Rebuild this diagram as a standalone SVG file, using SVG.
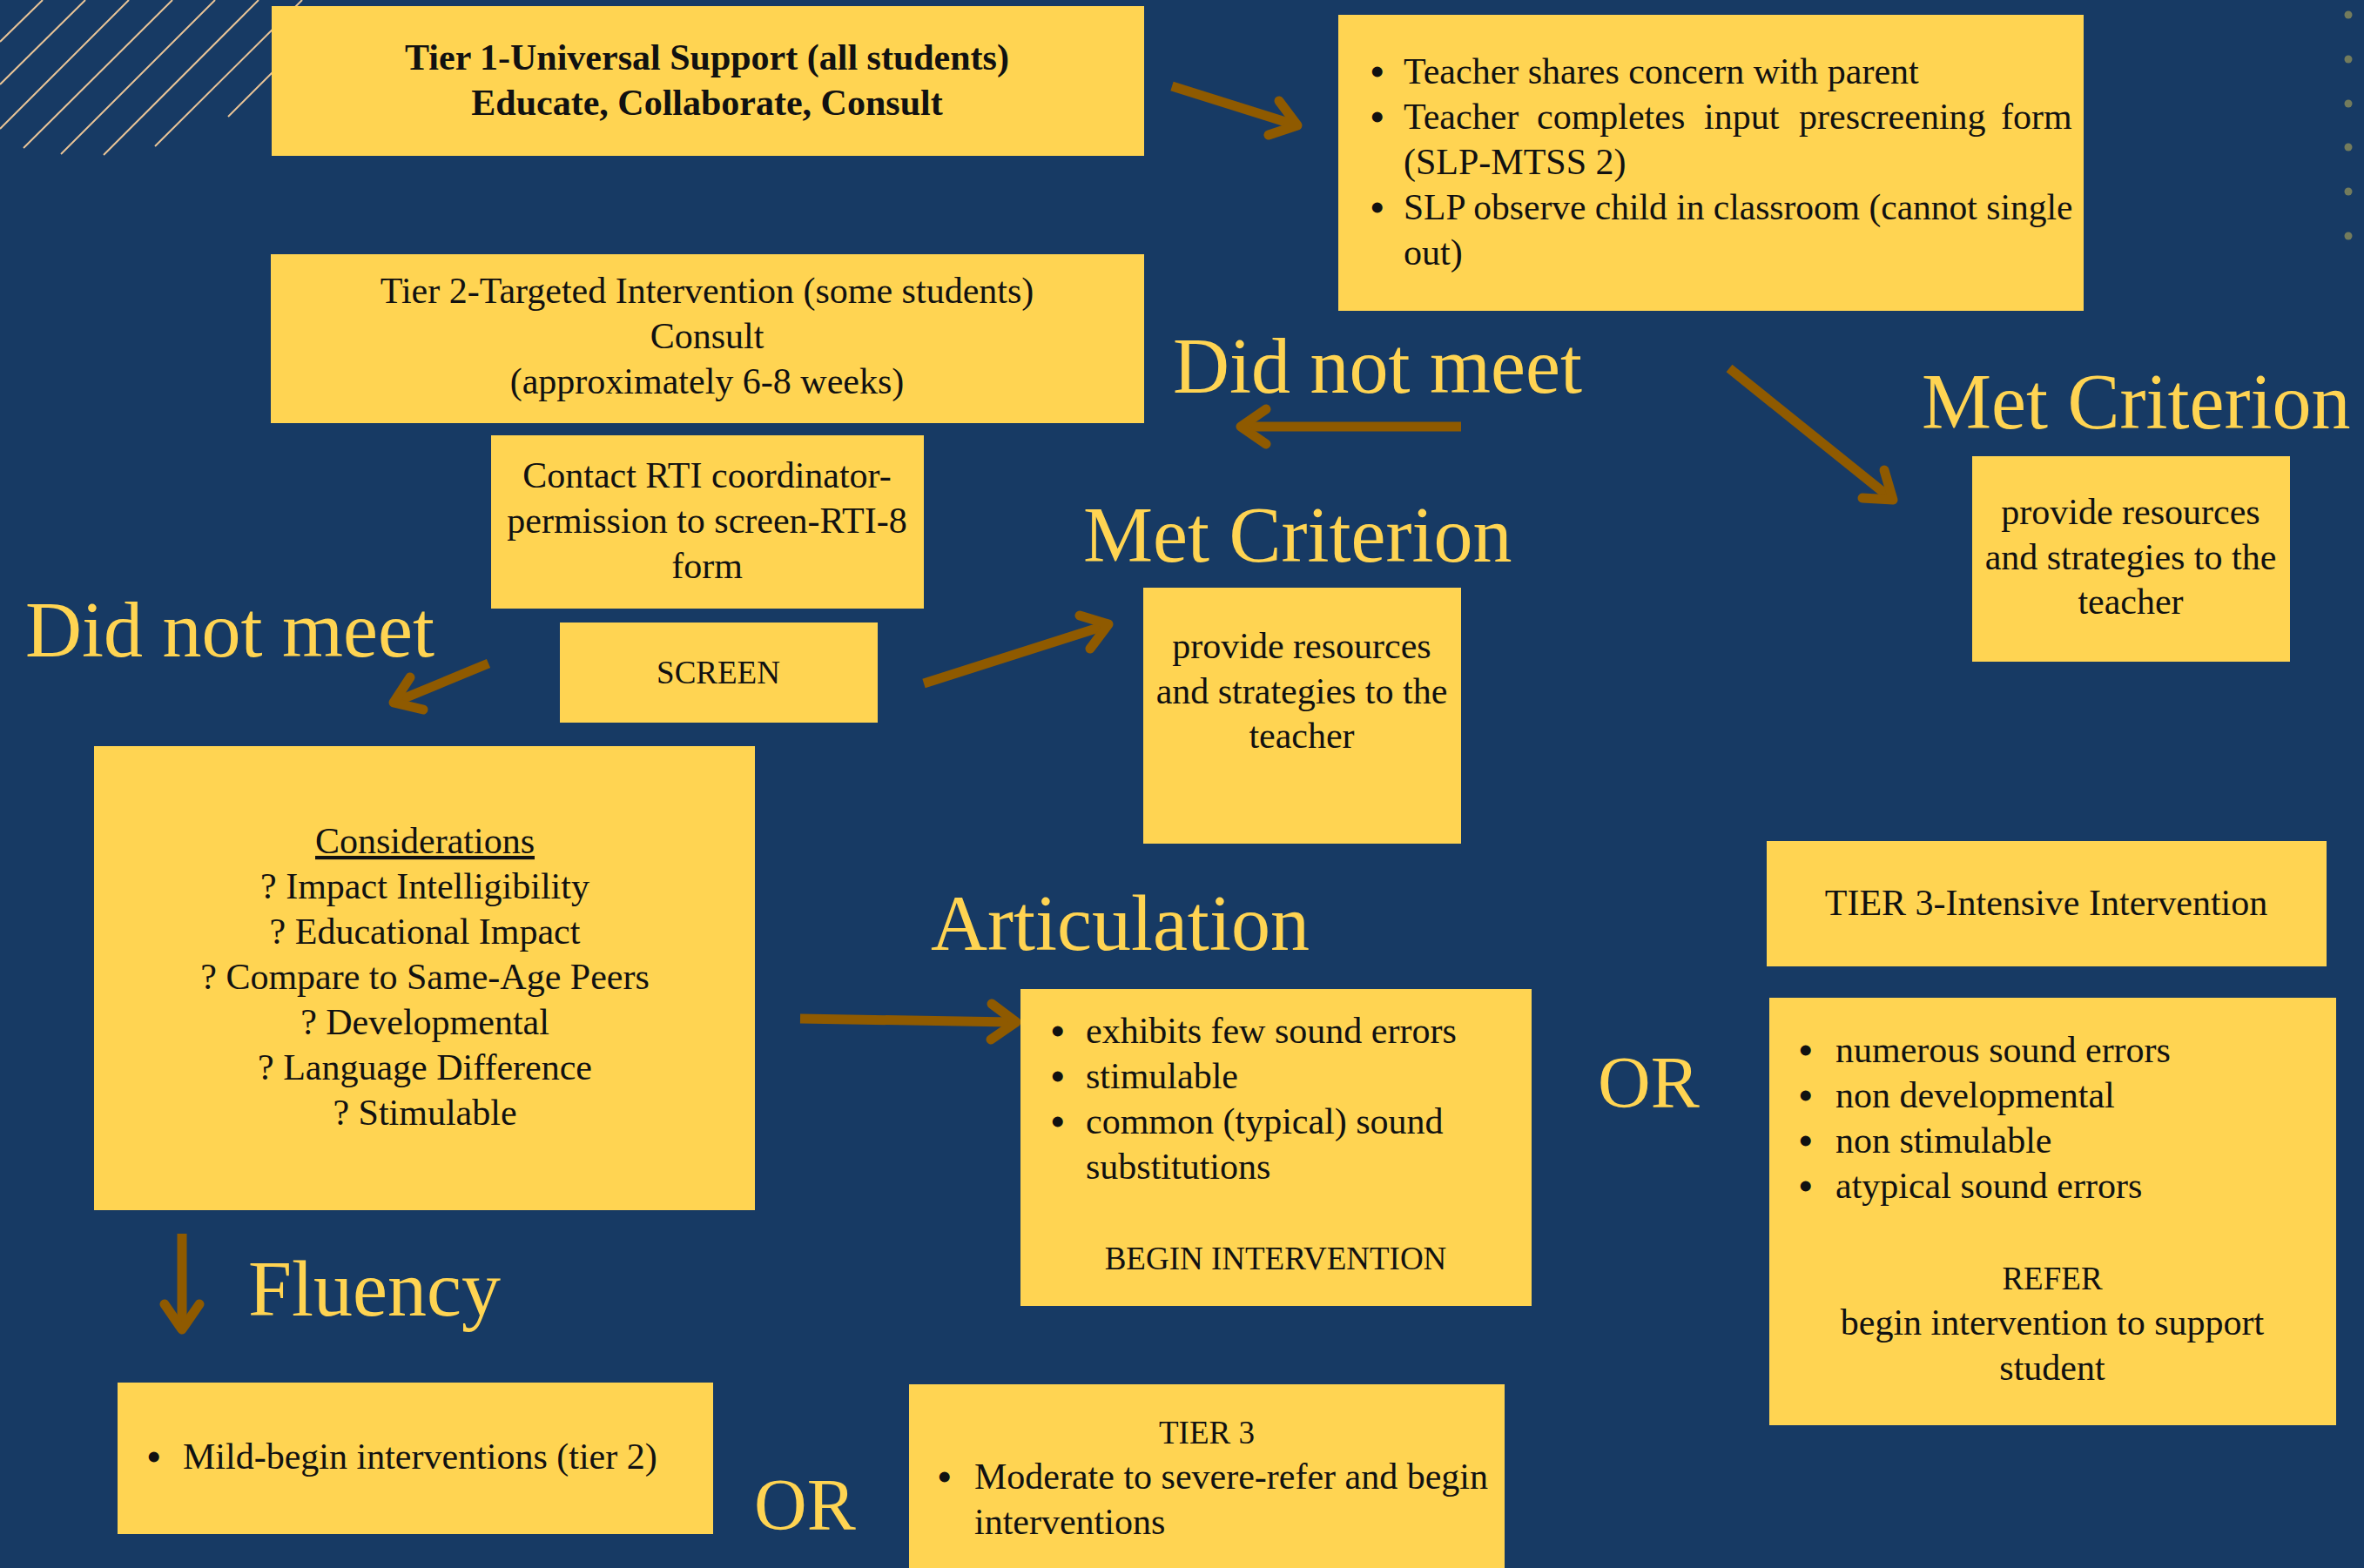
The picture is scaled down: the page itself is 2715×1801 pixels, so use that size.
<svg xmlns="http://www.w3.org/2000/svg" width="2715" height="1801" viewBox="0 0 2715 1801">
<style>
.bg{fill:#173A64}
.box{fill:#FFD452}
.t{font-family:"Liberation Serif",serif;font-size:42px;fill:#111111}
.caps{font-size:37px}
.bul{font-size:44px;font-weight:bold}
.c{text-anchor:middle}
.b{font-weight:bold}
.big{font-family:"Liberation Serif",serif;font-size:90px;fill:#FFD452}
.or{font-size:84px}
.stripe{stroke:#E9C497;stroke-width:2;fill:none}
.dot{fill:#737B5C}
.shaft{stroke:#8F5A00;stroke-width:11;fill:none;stroke-linecap:butt}
.head{stroke:#8F5A00;stroke-width:11;fill:none;stroke-linecap:round;stroke-linejoin:round}
</style>
<rect class="bg" x="0" y="0" width="2715" height="1801"/>
<g id="decor">
<line class="stripe" x1="0" y1="48" x2="49" y2="0"/>
<line class="stripe" x1="0" y1="97" x2="98" y2="0"/>
<line class="stripe" x1="0" y1="148" x2="148" y2="0"/>
<line class="stripe" x1="27" y1="170" x2="198" y2="0"/>
<line class="stripe" x1="70" y1="177" x2="247" y2="0"/>
<line class="stripe" x1="119" y1="178" x2="297" y2="0"/>
<line class="stripe" x1="178" y1="168" x2="347" y2="0"/>
<line class="stripe" x1="262" y1="134" x2="345" y2="51"/>
<circle class="dot" cx="2697" cy="17" r="4.5"/>
<circle class="dot" cx="2697" cy="68" r="4.5"/>
<circle class="dot" cx="2697" cy="119" r="4.5"/>
<circle class="dot" cx="2697" cy="169" r="4.5"/>
<circle class="dot" cx="2697" cy="220" r="4.5"/>
<circle class="dot" cx="2697" cy="271" r="4.5"/>
</g>
<g id="connectors">
<line class="shaft" x1="1346" y1="99" x2="1486" y2="143"/>
<path class="head" d="M1469,116 L1490,144 L1457,155"/>
<line class="shaft" x1="1678" y1="490" x2="1430" y2="490"/>
<path class="head" d="M1454,470 L1425,490 L1454,510"/>
<line class="shaft" x1="1986" y1="423" x2="2170" y2="571"/>
<path class="head" d="M2164,540 L2174,574 L2139,572"/>
<line class="shaft" x1="561" y1="762" x2="457" y2="805"/>
<path class="head" d="M471,778 L452,807 L486,815"/>
<line class="shaft" x1="1061" y1="785" x2="1268" y2="719"/>
<path class="head" d="M1252,745 L1273,717 L1240,707"/>
<line class="shaft" x1="919" y1="1170" x2="1162" y2="1174"/>
<path class="head" d="M1139,1153 L1167,1174 L1138,1194"/>
<line class="shaft" x1="209" y1="1417" x2="209" y2="1522"/>
<path class="head" d="M189,1498 L209,1527 L229,1498"/>
</g>
<g id="labels">
<text class="big" x="1347" y="451">Did not meet</text>
<text class="big" x="2207" y="492">Met Criterion</text>
<text class="big" x="29" y="754">Did not meet</text>
<text class="big" x="1244" y="645">Met Criterion</text>
<text class="big" x="1069" y="1091">Articulation</text>
<text class="big or" x="1835" y="1272">OR</text>
<text class="big" x="285" y="1511">Fluency</text>
<text class="big or" x="866" y="1757">OR</text>
</g>
<g id="tier1">
<rect class="box" x="312" y="7" width="1002" height="172"/>
<text class="t c b" x="812" y="80">Tier 1-Universal Support (all students)</text>
<text class="t c b" x="812" y="132">Educate, Collaborate, Consult</text>
</g>
<g id="prescreen">
<rect class="box" x="1537" y="17" width="856" height="340"/>
<text class="t bul" x="1574" y="97">•</text>
<text class="t" x="1612" y="96">Teacher shares concern with parent</text>
<text class="t bul" x="1574" y="149">•</text>
<text class="t" y="148"><tspan x="1612">Teacher</tspan><tspan x="1765">completes</tspan><tspan x="1957">input</tspan><tspan x="2066">prescreening</tspan><tspan x="2298">form</tspan></text>
<text class="t" x="1612" y="200">(SLP-MTSS 2)</text>
<text class="t bul" x="1574" y="253">•</text>
<text class="t" x="1612" y="252" style="font-size:41.5px">SLP observe child in classroom (cannot single</text>
<text class="t" x="1612" y="304">out)</text>
</g>
<g id="tier2">
<rect class="box" x="311" y="292" width="1003" height="194"/>
<text class="t c" x="812" y="348">Tier 2-Targeted Intervention (some students)</text>
<text class="t c" x="812" y="400">Consult</text>
<text class="t c" x="812" y="452">(approximately 6-8 weeks)</text>
</g>
<g id="met-right">
<rect class="box" x="2265" y="524" width="365" height="236"/>
<text class="t c" x="2447" y="602">provide resources</text>
<text class="t c" x="2447" y="654">and strategies to the</text>
<text class="t c" x="2447" y="705">teacher</text>
</g>
<g id="contact">
<rect class="box" x="564" y="500" width="497" height="199"/>
<text class="t c" x="812" y="560">Contact RTI coordinator-</text>
<text class="t c" x="812" y="612">permission to screen-RTI-8</text>
<text class="t c" x="812" y="664">form</text>
</g>
<g id="screen">
<rect class="box" x="643" y="715" width="365" height="115"/>
<text class="t c caps" x="825" y="785">SCREEN</text>
</g>
<g id="met-mid">
<rect class="box" x="1313" y="675" width="365" height="294"/>
<text class="t c" x="1495" y="756">provide resources</text>
<text class="t c" x="1495" y="808">and strategies to the</text>
<text class="t c" x="1495" y="859">teacher</text>
</g>
<g id="considerations">
<rect class="box" x="108" y="857" width="759" height="533"/>
<text class="t c" x="488" y="980" text-decoration="underline">Considerations</text>
<text class="t c" x="488" y="1032">? Impact Intelligibility</text>
<text class="t c" x="488" y="1084">? Educational Impact</text>
<text class="t c" x="488" y="1136">? Compare to Same-Age Peers</text>
<text class="t c" x="488" y="1188">? Developmental</text>
<text class="t c" x="488" y="1240">? Language Difference</text>
<text class="t c" x="488" y="1292">? Stimulable</text>
</g>
<g id="articulation">
<rect class="box" x="1172" y="1136" width="587" height="364"/>
<text class="t bul" x="1207" y="1199">•</text>
<text class="t" x="1247" y="1198">exhibits few sound errors</text>
<text class="t bul" x="1207" y="1251">•</text>
<text class="t" x="1247" y="1250">stimulable</text>
<text class="t bul" x="1207" y="1303">•</text>
<text class="t" x="1247" y="1302">common (typical) sound</text>
<text class="t" x="1247" y="1354">substitutions</text>
<text class="t c caps" x="1465" y="1458">BEGIN INTERVENTION</text>
</g>
<g id="tier3-intensive">
<rect class="box" x="2029" y="966" width="643" height="144"/>
<text class="t c" x="2350" y="1051">TIER 3-Intensive Intervention</text>
</g>
<g id="refer">
<rect class="box" x="2032" y="1146" width="651" height="491"/>
<text class="t bul" x="2066" y="1221">•</text>
<text class="t" x="2108" y="1220">numerous sound errors</text>
<text class="t bul" x="2066" y="1273">•</text>
<text class="t" x="2108" y="1272">non developmental</text>
<text class="t bul" x="2066" y="1325">•</text>
<text class="t" x="2108" y="1324">non stimulable</text>
<text class="t bul" x="2066" y="1377">•</text>
<text class="t" x="2108" y="1376">atypical sound errors</text>
<text class="t c caps" x="2357" y="1481">REFER</text>
<text class="t c" x="2357" y="1533">begin intervention to support</text>
<text class="t c" x="2357" y="1585">student</text>
</g>
<g id="mild">
<rect class="box" x="135" y="1588" width="684" height="174"/>
<text class="t bul" x="169" y="1688">•</text>
<text class="t" x="210" y="1687">Mild-begin interventions (tier 2)</text>
</g>
<g id="tier3-fluency">
<rect class="box" x="1044" y="1590" width="684" height="220"/>
<text class="t c caps" x="1386" y="1658">TIER 3</text>
<text class="t bul" x="1077" y="1711">•</text>
<text class="t" x="1119" y="1710">Moderate to severe-refer and begin</text>
<text class="t" x="1119" y="1762">interventions</text>
</g>
</svg>
